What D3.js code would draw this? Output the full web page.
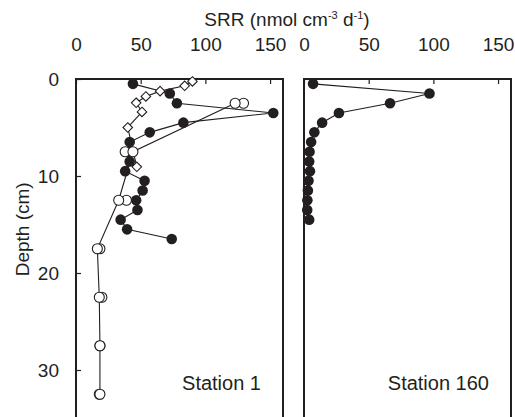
<!DOCTYPE html>
<html><head><meta charset="utf-8">
<script src="https://cdn.jsdelivr.net/npm/d3@7"></script>
<style>body{margin:0;background:#fff}svg{display:block}text{font-family:"Liberation Sans",Arial,sans-serif;fill:#231f20}</style>
</head><body>
<script>
// ---- data ----
const xTicks = [0, 50, 100, 150];
const yTicks = [0, 10, 20, 30];
// Station 1 - filled circles
const st1FilledDepth = [0.5,1.5,2.5,3.5,4.5,5.5,6.5,7.5,8.5,9.5,10.5,11.5,12.5,13.5,14.5,15.5,16.5];
const st1FilledSRR   = [44,72.5,78,152.5,83,57,41.5,41,41.5,38,53,51.5,46.5,47.5,34.5,39.5,74];
// Station 1 - open circles (two replicate profiles)
const st1OpenDepth = [2.5,7.5,12.5,17.5,22.5,27.5,32.5];
const st1OpenA     = [123,44,33,16.5,18,18.5,18.5];
const st1OpenB     = [129.5,38,39,18.5,20,18.5,18];
// Station 1 - diamonds
const st1DiamondDepth = [0.25,0.7,1.25,1.8,2.45,3.4,5.0,9.05];
const st1DiamondSRR   = [90,84,65,54,46.5,51,40,47];
// Station 160 - filled circles
const st160Depth = [0.5,1.5,2.5,3.5,4.5,5.5,6.5,7.5,8.5,9.5,10.5,11.5,12.5,13.5,14.5];
const st160SRR   = [7,97,66.5,27,14,8,5.5,4.3,4,4.6,3.5,3,2.6,2.5,4];

const W = 515, H = 417, ink = "#231f20";
const svg = d3.select("body").append("svg").attr("width", W).attr("height", H);

const y = d3.scaleLinear().domain([0, 35]).range([79, 418.5]);
const panels = [
  {x0: 76, x1: 283, label: "Station 1"},
  {x0: 304, x1: 511, label: "Station 160"}
];
const scales = panels.map(p => d3.scaleLinear().domain([0, 160]).range([p.x0, p.x1]));

panels.forEach((p, i) => {
  const x = scales[i];
  const g = svg.append("g");
  // top axis
  const ax = g.append("g").attr("transform", `translate(0,${y(0)})`)
    .call(d3.axisTop(x).tickValues(xTicks).tickSizeInner(-5).tickSizeOuter(0).tickPadding(28));
  ax.select(".domain").remove();
  ax.selectAll("line").attr("stroke", ink).attr("stroke-width", 1.2);
  ax.selectAll("text").attr("font-size", 19).attr("fill", ink)
    .attr("font-family", '"Liberation Sans",Arial,sans-serif');
  if (i === 0) {
    const ay = g.append("g").attr("transform", `translate(${p.x0},0)`)
      .call(d3.axisLeft(y).tickValues(yTicks).tickSizeInner(-5).tickSizeOuter(0).tickPadding(17));
    ay.select(".domain").remove();
    ay.selectAll("line").attr("stroke", ink).attr("stroke-width", 1.2);
    ay.selectAll("text").attr("font-size", 19).attr("fill", ink)
      .attr("font-family", '"Liberation Sans",Arial,sans-serif');
  }
  // frame
  g.append("path")
    .attr("d", `M${p.x0},${H + 5}V${y(0)}H${p.x1}V${H + 5}`)
    .attr("fill", "none").attr("stroke", ink).attr("stroke-width", 2);
  g.append("text").attr("x", p.x1 - 22).attr("y", 390).attr("text-anchor", "end")
    .attr("font-size", 20).text(p.label);
});

const line = (x) => d3.line().x(d => x(d[0])).y(d => y(d[1]));
const zip = (a, b) => a.map((v, i) => [v, b[i]]);
const xs1 = scales[0], xs2 = scales[1];

const plot = svg.append("g");
// lines
plot.append("path").datum(zip(st1DiamondSRR, st1DiamondDepth)).attr("d", line(xs1))
  .attr("fill", "none").attr("stroke", ink).attr("stroke-width", 1.1);
plot.append("path").datum(zip(st1OpenA, st1OpenDepth)).attr("d", line(xs1))
  .attr("fill", "none").attr("stroke", ink).attr("stroke-width", 1.1);
plot.append("path").datum(zip(st1FilledSRR, st1FilledDepth)).attr("d", line(xs1))
  .attr("fill", "none").attr("stroke", ink).attr("stroke-width", 1.1);
plot.append("path").datum(zip(st160SRR, st160Depth)).attr("d", line(xs2))
  .attr("fill", "none").attr("stroke", ink).attr("stroke-width", 1.1);

// diamonds
const dsym = d3.symbol().type(d3.symbolDiamond2).size(58);
plot.selectAll(".dia").data(zip(st1DiamondSRR, st1DiamondDepth)).join("path")
  .attr("transform", d => `translate(${xs1(d[0])},${y(d[1])})`)
  .attr("d", dsym).attr("fill", "#fff").attr("stroke", ink).attr("stroke-width", 1.1);
// filled circles
plot.selectAll(".f1").data(zip(st1FilledSRR, st1FilledDepth)).join("circle")
  .attr("cx", d => xs1(d[0])).attr("cy", d => y(d[1])).attr("r", 5.3).attr("fill", ink);
plot.selectAll(".f2").data(zip(st160SRR, st160Depth)).join("circle")
  .attr("cx", d => xs2(d[0])).attr("cy", d => y(d[1])).attr("r", 5.3).attr("fill", ink);
// open circles
[st1OpenB, st1OpenA].forEach(arr => {
  plot.append("g").selectAll("circle").data(zip(arr, st1OpenDepth)).join("circle")
    .attr("cx", d => xs1(d[0])).attr("cy", d => y(d[1])).attr("r", 5)
    .attr("fill", "#fff").attr("stroke", ink).attr("stroke-width", 1.1);
});

// titles
const t = svg.append("text").attr("x", 287).attr("y", 26).attr("text-anchor", "middle").attr("font-size", 19);
t.append("tspan").text("SRR (nmol cm");
t.append("tspan").attr("font-size", 11).attr("dy", -7).text("-3");
t.append("tspan").attr("dy", 7).text(" d");
t.append("tspan").attr("font-size", 11).attr("dy", -7).text("-1");
t.append("tspan").attr("dy", 7).text(")");

svg.append("text").attr("transform", `translate(29,${y(15.5)}) rotate(-90)`)
  .attr("text-anchor", "middle").attr("font-size", 19).text("Depth (cm)");
</script>
</body></html>
